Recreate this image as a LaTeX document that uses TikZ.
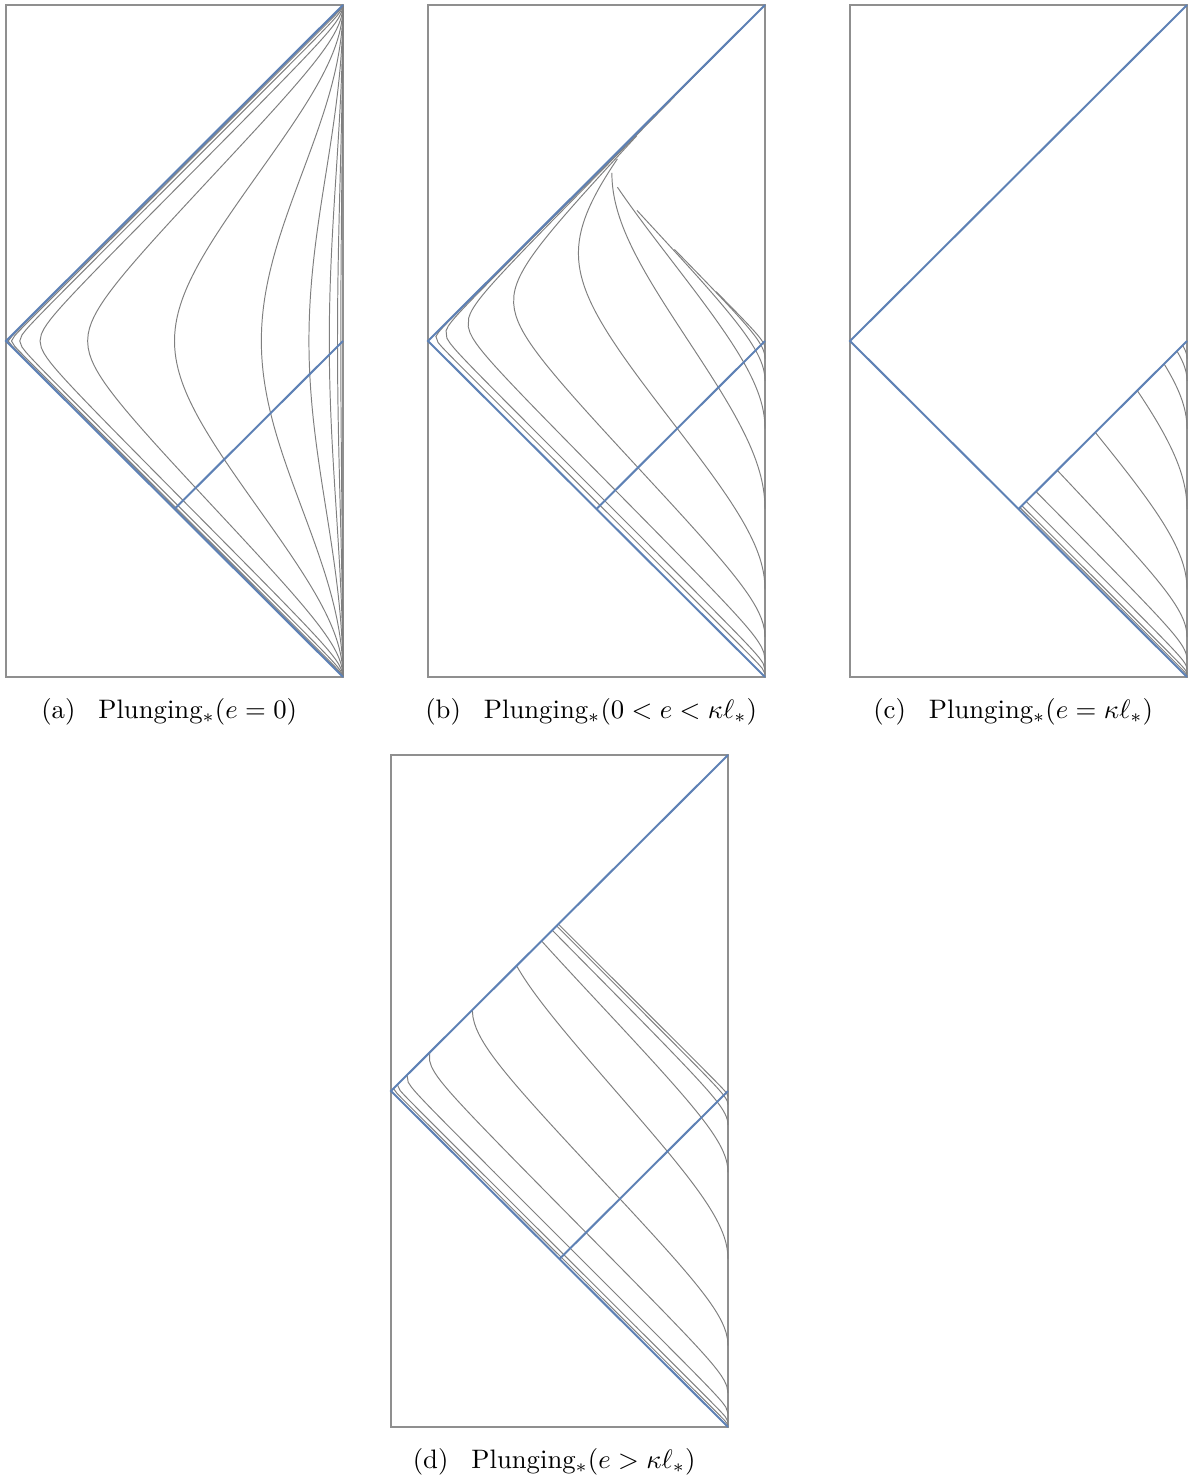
\documentclass[tikz,border=0pt]{standalone}
\usepackage{graphicx}
\usepackage{tikz}
\usetikzlibrary{calc}
\definecolor{nullblue}{HTML}{5E81B5}
\definecolor{orbitgray}{HTML}{7F7F7F}
\definecolor{framegray}{HTML}{8F8F8F}
% current scale and energy of a family, reset in the loops
\newcommand\zc{1}
\newcommand\en{1}
% caption set at 10pt and enlarged, like the scanned figure
\newcommand\plungcap[2]{\scalebox{1.52}{(#1)\hspace{0.86em}Plunging$_*(#2)$}}

\begin{document}
\begin{tikzpicture}[
    x=0.02cm, y=-0.02cm,
    panelbox/.style={draw=framegray, line width=0.6pt},
    horizon/.style={nullblue, line width=1.15pt, line join=miter},
    orbit/.style={orbitgray, line width=0.55pt, line join=round, samples=80},
    subcap/.style={inner sep=0pt},
    declare function={
      % e = 0 : fixed Poincare radius \zc
      bzero(\p)=2*atan(tan(\p/2)-2*\zc);
      azero(\q)=2*atan(tan(\q/2)+2*\zc);
      % e > 0 : touches the boundary at x = -\zc
      bofa(\p)=2*atan(\zc*((tan(\p/2)+\zc)/(\en*(tan(\p/2)+\zc)+\zc)-1));
      aofb(\q)=2*atan(\zc*((1+tan(\q/2)/\zc)/(1-\en*(1+tan(\q/2)/\zc))-1));
      % global null angles to page offsets (337/360, 336/360)
      dx(\p,\q)=-0.93611*(\p-\q);
      dy(\p,\q)=-0.93333*(\p+\q);
    }
  ]
    \useasboundingbox (0,0) rectangle (1192,1479);

    % Frames
    \foreach \xR/\ym in {343/341, 765/341, 1187/341, 728/1091}
      \draw[panelbox] (\xR-337,\ym-336) rectangle (\xR,\ym+336);

    % (a) e = 0
    \foreach \k in {-5,...,5}{
      \pgfmathsetmacro\zc{2.5^(\k)}
      \pgfmathsetmacro\am{2*atan(\zc)}
      \draw[orbit] plot[domain=-179.5:\am, variable=\t]
          ({343+dx(\t,bzero(\t))}, {341+dy(\t,bzero(\t))})
        -- plot[domain=-\am:179.5, variable=\t]
          ({343+dx(azero(\t),\t)}, {341+dy(azero(\t),\t)});
    }

    % (b) 0 < e < kappa l, stopped at the turning point
    \renewcommand\en{0.866}
    \pgfmathsetmacro\yturn{(1-\en)/(1+\en)}
    \foreach \k in {-4,...,5}{
      \pgfmathsetmacro\zc{2.3^(\k)}
      \pgfmathsetmacro\az{-2*atan(\zc)}
      \pgfmathsetmacro\am{2*atan(\zc)}
      \pgfmathsetmacro\bm{bofa(\am)}
      \pgfmathsetmacro\bt{2*atan(\zc*\yturn)}
      \draw[orbit] plot[domain=\az:\am, variable=\t]
          ({765+dx(\t,bofa(\t))}, {341+dy(\t,bofa(\t))})
        -- plot[domain=\bm:\bt, variable=\t]
          ({765+dx(aofb(\t),\t)}, {341+dy(aofb(\t),\t)});
    }

    % (c) e = kappa l
    \renewcommand\en{1}
    \foreach \k in {-3,...,6}{
      \pgfmathsetmacro\zc{2.3^(\k)}
      \pgfmathsetmacro\az{-2*atan(\zc)}
      \draw[orbit] plot[domain=\az:0, variable=\t]
          ({1187+dx(\t,bofa(\t))}, {341+dy(\t,bofa(\t))});
    }

    % (d) e > kappa l
    \renewcommand\en{1.732}
    \foreach \k in {-4,...,5}{
      \pgfmathsetmacro\zc{2.5^(\k)}
      \pgfmathsetmacro\az{-2*atan(\zc)}
      \draw[orbit] plot[domain=\az:179.9, variable=\t]
          ({728+dx(\t,bofa(\t))}, {1091+dy(\t,bofa(\t))});
    }

    % Horizons
    \foreach \xR/\ym in {343/341, 765/341, 1187/341, 728/1091}{
      \draw[horizon] (\xR,\ym-336) -- (\xR-337,\ym) -- (\xR,\ym+336);
      \draw[horizon] (\xR,\ym) -- (\xR-168.5,\ym+168);
    }

    % Captions
    \node[subcap] (capA) at (169.2,712) {\plungcap{a}{e=0}};
    \node[subcap] (capB) at (591.2,712) {\plungcap{b}{0<e<\kappa\ell_*}};
    \node[subcap] (capC) at (1013.2,712) {\plungcap{c}{e=\kappa\ell_*}};
    \node[subcap] (capD) at (554.2,1462) {\plungcap{d}{e>\kappa\ell_*}};
  \end{tikzpicture}
\end{document}
